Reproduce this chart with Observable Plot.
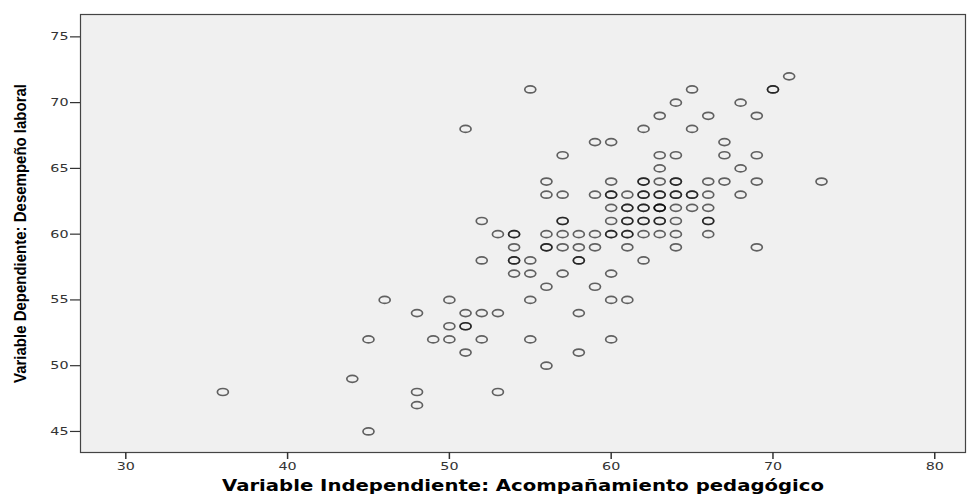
<!DOCTYPE html>
<html>
<head>
<meta charset="utf-8">
<script src="https://cdn.jsdelivr.net/npm/d3@7"></script>
<script src="https://cdn.jsdelivr.net/npm/@observablehq/plot@0.6"></script>
<style>
  html, body { margin: 0; padding: 0; background: #ffffff; }
  #chart svg { display: block; }
</style>
</head>
<body>
<div id="chart"></div>
<script>
// Acompañamiento pedagógico (x) and Desempeño laboral (y), one entry per respondent
const acompanamiento = [
  71,
  55, 65, 70, 70,
  64, 68,
  63, 66, 69,
  51, 62, 65,
  59, 60, 67,
  57, 63, 64, 67, 69,
  63, 68,
  56, 60, 62, 62, 63, 64, 64, 66, 67, 69, 73,
  56, 57, 59, 60, 60, 61, 62, 62, 63, 63, 64, 64, 65, 65, 66, 68,
  60, 61, 61, 62, 62, 63, 63, 63, 64, 65, 66,
  52, 57, 57, 60, 61, 61, 62, 62, 63, 63, 64, 66, 66,
  53, 54, 54, 56, 57, 58, 59, 60, 60, 61, 61, 62, 63, 64, 66,
  54, 56, 56, 57, 58, 59, 61, 64, 69,
  52, 54, 54, 55, 58, 58, 62,
  54, 55, 57, 60,
  56, 59,
  46, 50, 55, 60, 61,
  48, 51, 52, 53, 58,
  50, 51, 51,
  45, 49, 50, 52, 55, 60,
  51, 58,
  56,
  44,
  36, 48, 53,
  48,
  45
];
const desempeno = [
  72,
  71, 71, 71, 71,
  70, 70,
  69, 69, 69,
  68, 68, 68,
  67, 67, 67,
  66, 66, 66, 66, 66,
  65, 65,
  64, 64, 64, 64, 64, 64, 64, 64, 64, 64, 64,
  63, 63, 63, 63, 63, 63, 63, 63, 63, 63, 63, 63, 63, 63, 63, 63,
  62, 62, 62, 62, 62, 62, 62, 62, 62, 62, 62,
  61, 61, 61, 61, 61, 61, 61, 61, 61, 61, 61, 61, 61,
  60, 60, 60, 60, 60, 60, 60, 60, 60, 60, 60, 60, 60, 60, 60,
  59, 59, 59, 59, 59, 59, 59, 59, 59,
  58, 58, 58, 58, 58, 58, 58,
  57, 57, 57, 57,
  56, 56,
  55, 55, 55, 55, 55,
  54, 54, 54, 54, 54,
  53, 53, 53,
  52, 52, 52, 52, 52, 52,
  51, 51,
  50,
  49,
  48, 48, 48,
  47,
  45
];

const xTicks = [30, 40, 50, 60, 70, 80];
const yTicks = [45, 50, 55, 60, 65, 70, 75];
const xLabel = "Variable Independiente: Acompañamiento pedagógico";
const yLabel = "Variable Dependiente: Desempeño laboral";

const rows = acompanamiento.map((x, i) => ({x, y: desempeno[i]}));

// Flattened open-ellipse marker
const ellipse = {
  draw(ctx) {
    const rx = 5.5, ry = 3.5, k = 0.5523;
    ctx.moveTo(rx, 0);
    ctx.bezierCurveTo(rx, ry * k, rx * k, ry, 0, ry);
    ctx.bezierCurveTo(-rx * k, ry, -rx, ry * k, -rx, 0);
    ctx.bezierCurveTo(-rx, -ry * k, -rx * k, -ry, 0, -ry);
    ctx.bezierCurveTo(rx * k, -ry, rx, -ry * k, rx, 0);
    ctx.closePath();
  }
};

const chart = Plot.plot({
  width: 968,
  height: 500,
  marginLeft: 80,
  marginRight: 3,
  marginTop: 14,
  marginBottom: 48,
  style: {background: "#ffffff", fontFamily: "DejaVu Sans, sans-serif", fontSize: "11px", color: "#333"},
  x: {domain: [27.2, 81.9]},
  y: {domain: [43.4, 76.7]},
  marks: [
    Plot.frame({fill: "#f0f0f0"}),
    Plot.dot(rows, {x: "x", y: "y", symbol: ellipse, fill: "none", stroke: "#000", strokeOpacity: 0.6, strokeWidth: 1.7}),
    Plot.frame({stroke: "#444", strokeWidth: 1.2}),
    Plot.axisX({ticks: xTicks, tickSize: 7, tickPadding: 3, stroke: "#333", strokeWidth: 1.5,
      label: xLabel, labelAnchor: "center", labelArrow: "none", labelOffset: 38}),
    Plot.axisY({ticks: yTicks, tickSize: 10, tickPadding: 2, stroke: "#333", strokeWidth: 1.2,
      label: yLabel, labelAnchor: "center", labelArrow: "none", labelOffset: 66})
  ]
});

// Tick numbers are set in a wide face: stretch them horizontally
for (const sel of ['[aria-label="x-axis tick label"] text', '[aria-label="y-axis tick label"] text']) {
  chart.querySelectorAll(sel).forEach((t) => {
    const tr = t.getAttribute("transform") || "";
    t.setAttribute("transform", tr + " scale(1.3,1)");
  });
}

// Axis titles: bold, stretched/condensed to their printed widths
const xl = chart.querySelector('[aria-label="x-axis label"] text');
if (xl) {
  xl.setAttribute("font-weight", "bold");
  xl.setAttribute("font-size", "15px");
  xl.setAttribute("fill", "#000");
  xl.setAttribute("textLength", "602");
  xl.setAttribute("lengthAdjust", "spacingAndGlyphs");
}
const yl = chart.querySelector('[aria-label="y-axis label"] text');
if (yl) {
  yl.setAttribute("font-weight", "bold");
  yl.setAttribute("font-size", "16px");
  yl.setAttribute("font-family", "Liberation Sans, sans-serif");
  yl.setAttribute("fill", "#000");
  yl.setAttribute("textLength", "299");
  yl.setAttribute("lengthAdjust", "spacingAndGlyphs");
}
document.getElementById("chart").appendChild(chart);
</script>
</body>
</html>
